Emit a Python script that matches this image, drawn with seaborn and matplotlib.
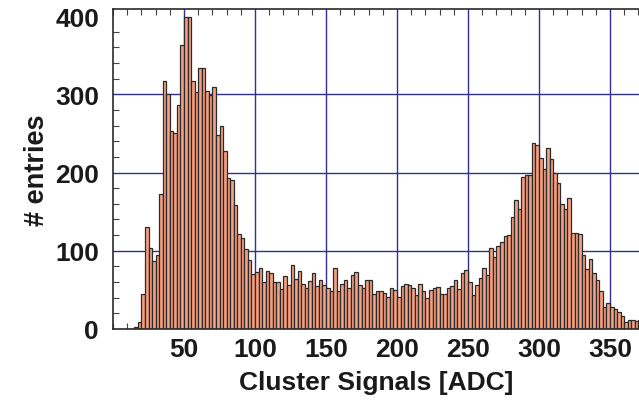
import numpy as np
import pandas as pd
import matplotlib
matplotlib.use("Agg")
import matplotlib.pyplot as plt
import seaborn as sns
from matplotlib.ticker import MultipleLocator

# ---- data ----
bin_width = 2.5
counts = [
    0, 0, 0, 0, 0, 0, 3, 9, 45, 130,
    103, 87, 94, 172, 317, 300, 253, 251, 286, 363,
    399, 399, 317, 303, 333, 333, 304, 299, 309, 248,
    260, 227, 193, 191, 158, 121, 116, 102, 88, 70,
    73, 78, 60, 74, 72, 60, 60, 51, 68, 56,
    82, 64, 74, 58, 53, 61, 72, 55, 63, 56,
    53, 49, 78, 48, 57, 63, 53, 69, 73, 56,
    53, 62, 62, 45, 49, 48, 46, 41, 53, 50,
    41, 55, 57, 56, 52, 44, 58, 49, 39, 50,
    52, 54, 45, 45, 53, 55, 62, 51, 71, 76,
    60, 43, 56, 65, 78, 69, 103, 92, 106, 111,
    119, 120, 143, 165, 154, 194, 197, 197, 238, 235,
    219, 205, 231, 217, 199, 186, 160, 153, 168, 123,
    123, 121, 94, 77, 89, 72, 62, 48, 28, 33,
    28, 25, 22, 17, 9, 11, 11, 10, 12,
]
x_ticks = [50, 100, 150, 200, 250, 300, 350]
y_ticks = [0, 100, 200, 300, 400]
x_label = "Cluster Signals [ADC]"
y_label = "# entries"

n_bins = len(counts)
centers = (np.arange(n_bins) + 0.5) * bin_width
df = pd.DataFrame({"signal": centers, "entries": counts})

sns.set_style("white")
plt.rcParams["font.family"] = ["Liberation Sans", "DejaVu Sans"]
plt.rcParams["font.weight"] = "bold"

fig = plt.figure(figsize=(6.39, 4.14), dpi=100)
ax = fig.add_axes([113 / 639, 1 - 330 / 414, 1 - 113 / 639, 320 / 414])

sns.histplot(data=df, x="signal", weights="entries",
             binwidth=bin_width, binrange=(0, n_bins * bin_width),
             color="#F59E80", edgecolor="#2b2b2b", linewidth=0.9,
             alpha=1.0, ax=ax)

ax.set_xlim(0, 370.4)
ax.set_ylim(0, 409)
ax.set_xticks(x_ticks)
ax.set_yticks(y_ticks)
ax.xaxis.set_minor_locator(MultipleLocator(10))
ax.yaxis.set_minor_locator(MultipleLocator(20))

ax.set_axisbelow(True)
ax.grid(True, which="major", color="#2f2f95", linewidth=1.0)
# no horizontal grid line at the top label (400) nor at 0
for val, gl in zip(y_ticks, ax.yaxis.get_gridlines()):
    if val in (0, 400):
        gl.set_visible(False)

ax.tick_params(which="major", length=0, labelsize=19)
ax.tick_params(axis="x", which="major", pad=6)
ax.tick_params(axis="y", which="major", pad=10)
ax.tick_params(which="minor", direction="in", length=4.5, width=0.8,
               color="#444444", top=True, bottom=True, left=True, right=False)
for lab in ax.get_xticklabels() + ax.get_yticklabels():
    lab.set_fontweight("bold")
    lab.set_color("#1a1a1a")

for side in ["left", "top", "bottom"]:
    ax.spines[side].set_visible(True)
    ax.spines[side].set_color("#2a2a2a")
    ax.spines[side].set_linewidth(1.2)
ax.spines["right"].set_visible(False)

ax.set_xlabel(x_label, fontsize=19, fontweight="bold", color="#1a1a1a", labelpad=6)
ax.set_ylabel(y_label, fontsize=19.5, fontweight="bold", color="#1a1a1a", labelpad=4)

fig.savefig("out.png", dpi=100, facecolor="white")
